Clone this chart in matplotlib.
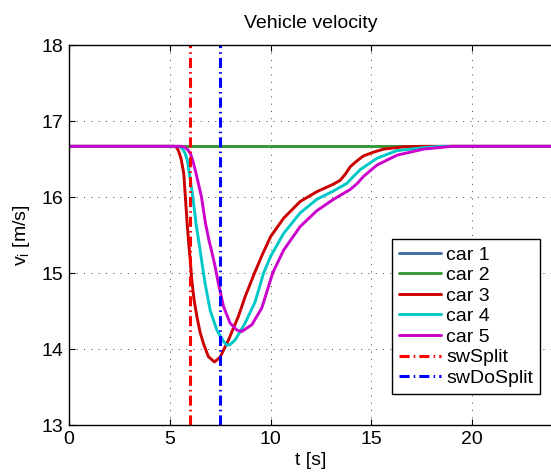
import matplotlib
matplotlib.use('Agg')
import matplotlib.pyplot as plt

plt.rcParams['font.family'] = ['Liberation Sans', 'DejaVu Sans']
plt.rcParams['mathtext.fontset'] = 'custom'
plt.rcParams['mathtext.rm'] = 'Liberation Sans'
plt.rcParams['mathtext.it'] = 'Liberation Sans'

# velocidad nominal (60 km/h)
V_REF = 16.667

# coches 1 y 2: constantes
t_flat = [0, 25]
v_car1 = [V_REF, V_REF]
v_car2 = [V_REF, V_REF]

# coche 3
t_car3 = [0, 5.2, 5.35, 5.44, 5.56, 5.69, 5.77, 5.86, 5.94, 6.02, 6.09, 6.2, 6.34, 6.5,
          6.67, 6.91, 7.21, 7.49, 7.91, 8.40, 8.75, 9.2, 9.6, 10.0, 10.64, 11.46,
          12.29, 13.12, 13.45, 13.7, 13.95, 14.3, 14.6, 15.1, 15.6, 16.6, 17.5, 25]
v_car3 = [V_REF, V_REF, 16.65, 16.60, 16.50, 16.31, 16.0, 15.65, 15.38, 15.15, 14.9, 14.65, 14.43, 14.22,
          14.07, 13.90, 13.83, 13.89, 14.12, 14.43, 14.70, 15.0, 15.25, 15.48, 15.72, 15.94,
          16.07, 16.17, 16.22, 16.30, 16.40, 16.48, 16.54, 16.59, 16.63, 16.66, V_REF, V_REF]

# coche 4
t_car4 = [0, 5.45, 5.61, 5.75, 5.86, 5.97, 6.14, 6.30, 6.50, 6.60, 6.75, 7.0, 7.33,
          7.66, 7.83, 8.0, 8.24, 8.73, 9.23, 9.65, 10.0, 10.64, 11.46, 12.29, 13.12,
          13.78, 14.1, 14.44, 15.27, 16.26, 17.58, 18.5, 25]
v_car4 = [V_REF, V_REF, 16.64, 16.58, 16.49, 16.31, 16.0, 15.65, 15.30, 15.12, 14.86, 14.51, 14.25,
          14.10, 14.05, 14.06, 14.12, 14.34, 14.62, 15.0, 15.22, 15.52, 15.79, 15.97, 16.08,
          16.18, 16.27, 16.36, 16.51, 16.61, 16.65, V_REF, V_REF]

# coche 5
t_car5 = [0, 5.6, 5.76, 5.9, 6.02, 6.15, 6.30, 6.57, 6.77, 6.95, 7.08, 7.25, 7.41,
          7.66, 7.99, 8.32, 8.57, 9.07, 9.56, 10.1, 10.64, 11.46, 12.29, 13.12, 13.95,
          14.3, 14.6, 15.27, 16.26, 17.58, 19.0, 25]
v_car5 = [V_REF, V_REF, 16.65, 16.62, 16.57, 16.47, 16.31, 16.0, 15.65, 15.42, 15.28, 15.08, 14.86,
          14.56, 14.34, 14.25, 14.23, 14.32, 14.54, 15.0, 15.30, 15.61, 15.82, 15.97, 16.10,
          16.18, 16.27, 16.42, 16.55, 16.63, V_REF, V_REF]

# instantes de conmutacion
t_sw_split = 6.0
t_sw_dosplit = 7.5

fig = plt.figure(figsize=(5.51, 4.74), dpi=100)
# el eje derecho queda fuera de la imagen, como en la captura original
ax = fig.add_axes([69 / 551, 49 / 474, 490 / 551, 380 / 474])

kw = dict(lw=2.1, solid_joinstyle='round', solid_capstyle='round')
ax.plot(t_flat, v_car1, color='#3d6fa3', label='car 1', **kw)
ax.plot(t_flat, v_car2, color='#3a9a3a', label='car 2', **kw)
ax.plot(t_car3, v_car3, color='#cc0000', label='car 3', **kw)
ax.plot(t_car4, v_car4, color='#00c8c8', label='car 4', **kw)
ax.plot(t_car5, v_car5, color='#cc00cc', label='car 5', **kw)
dashdot = (3.3, 1.35, 0.5, 1.35)
ax.axvline(t_sw_split, color='#ff0000', lw=2.2, dashes=dashdot, label='swSplit')
ax.axvline(t_sw_dosplit, color='#0000ff', lw=2.2, dashes=dashdot, label='swDoSplit')

ax.set_xlim(0, 24 * 490 / 484)
ax.set_ylim(13, 18)
ax.set_xticks([0, 5, 10, 15, 20])
ax.set_yticks([13, 14, 15, 16, 17, 18])
ax.tick_params(direction='in', top=True, right=True, length=4, width=0.8,
               labelsize=14, pad=4)
ax.grid(True, color='#404040', linestyle=(0, (1, 6.5)), linewidth=0.7)
for s in ax.spines.values():
    s.set_linewidth(1.0)

ax.set_title('Vehicle velocity', fontsize=14, pad=12, x=(552 - 69) / 2 / 490)
ax.set_xlabel('t [s]', fontsize=14, labelpad=3, x=(552 - 69) / 2 / 490)
ax.set_ylabel(r'v$_\mathrm{i}$ [m/s]', fontsize=14, labelpad=7)

leg = ax.legend(loc='upper left', bbox_to_anchor=(391.7 / 551, 1 - 239.3 / 474),
                bbox_transform=fig.transFigure, fontsize=14, fancybox=False,
                framealpha=1, edgecolor='black', borderaxespad=0, borderpad=0.35,
                labelspacing=0.15, handlelength=2.2, handletextpad=0.25)
leg.get_frame().set_linewidth(1.0)

fig.savefig('out.png', dpi=100)
